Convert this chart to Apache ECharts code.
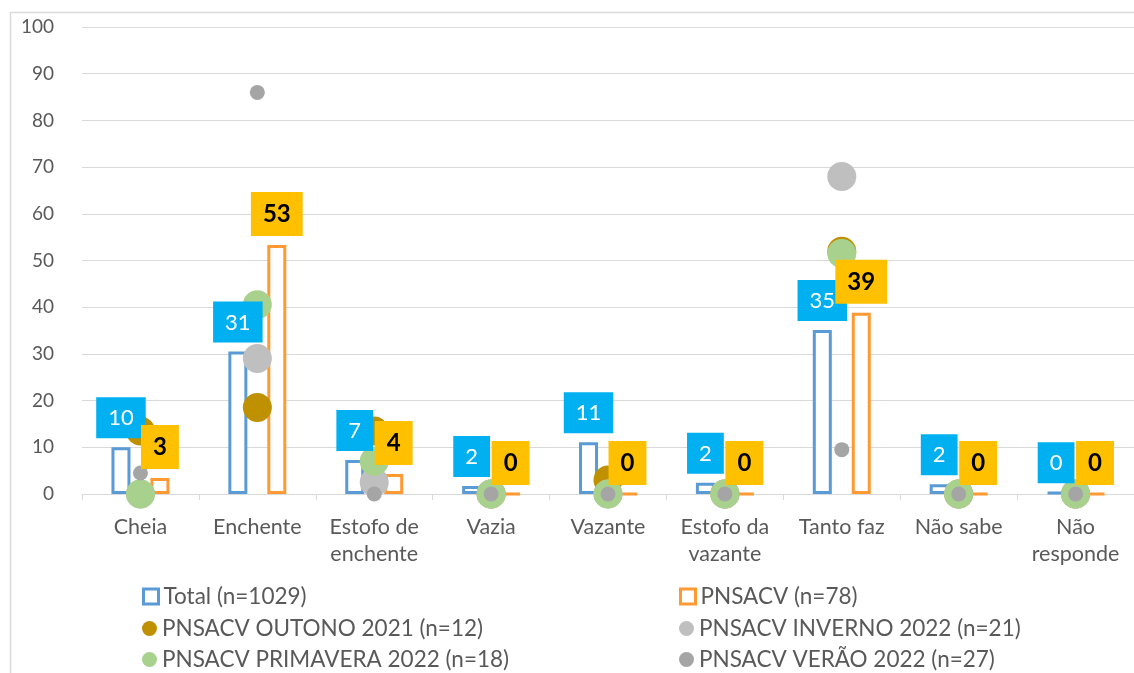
<!DOCTYPE html>
<html><head><meta charset="utf-8">
<script src="https://cdn.jsdelivr.net/npm/echarts@6/dist/echarts.min.js"></script>
<style>html,body{margin:0;padding:0;background:#fff}#c{width:1134px;height:673px}</style>
</head><body><div id="c"></div>
<script>
const categories = ['Cheia','Enchente','Estofo de\nenchente','Vazia','Vazante','Estofo da\nvazante','Tanto faz','Não sabe','Não\nresponde'];
const yTicks = [0,10,20,30,40,50,60,70,80,90,100];
const total = [10, 30.5, 7.3, 1.7, 11.1, 2.4, 35.1, 2.1, 0.4];
const pnsacv = [3.4, 53.3, 4.3, 0, 0, 0, 38.8, 0, 0];
const outono = [13.5, 18.5, 13.5, 0, 3, 0, 52, 0, 0];
const inverno = [0, 29, 2.5, 0, 0, 0, 68, 0, 0];
const primavera = [0, 40.5, 7, 0, 0, 0, 51.5, 0, 0];
const verao = [4.5, 86, 0, 0, 0, 0, 9.5, 0, 0];
const names = ['Total (n=1029)','PNSACV (n=78)','PNSACV OUTONO 2021 (n=12)','PNSACV INVERNO 2022 (n=21)','PNSACV PRIMAVERA 2022 (n=18)','PNSACV VERÃO 2022 (n=27)'];

const FONT = 'Lato';
const C = {total:'#5B9BD5', pnsacv:'#FF9933', outono:'#BF9000', inverno:'#BFBFBF', primavera:'#A9D18E', verao:'#A5A5A5'};
const BW = 19, GAP = '105%';

const chart = echarts.init(document.getElementById('c'), null, {renderer:'canvas'});
function barSeries(name, data, color, axis, withLabel, labelStyle){
  return {
    name, type:'bar', data, xAxisIndex:axis, barWidth:BW, barGap:GAP,
    z: withLabel ? 10 : 1, silent: withLabel,
    itemStyle: withLabel ? {color:'transparent', borderWidth:0} : {color:'#fff', borderColor:color, borderWidth:3},
    label: withLabel ? Object.assign({show:true, position:'top', distance:9, formatter:p=>String(Math.round(p.value)), fontFamily:FONT}, labelStyle) : {show:false}
  };
}
function scatterSeries(name, data, color, size){
  return {name, type:'scatter', data, symbol:'circle', symbolSize:size, itemStyle:{color, opacity:1}, z:3, clip:false};
}
const leg = (item, left, top) => ({
  orient:'horizontal', left, top, itemWidth:15, itemHeight:15,
  textStyle:{fontFamily:FONT, fontSize:22.5, color:'#595959', lineHeight:22},
  data:[item], selectedMode:false
});
const rowTop = [580, 612, 643];
chart.setOption({
  animation:false,
  textStyle:{fontFamily:FONT},
  graphic:[{type:'rect', left:8, top:10, shape:{width:1300, height:800}, style:{fill:'none', stroke:'#D9D9D9', lineWidth:1.5}, z:-1}],
  grid:{left:82, right:-10, top:27, bottom:179},
  legend:[
    leg({name:names[0], icon:'rect', itemStyle:{color:'#fff', borderColor:C.total, borderWidth:3}}, 137, rowTop[0]),
    leg({name:names[1], icon:'rect', itemStyle:{color:'#fff', borderColor:C.pnsacv, borderWidth:3}}, 674, rowTop[0]),
    leg({name:names[2], icon:'circle'}, 137, rowTop[1]),
    leg({name:names[3], icon:'circle'}, 674, rowTop[1]),
    leg({name:names[4], icon:'circle'}, 137, rowTop[2]),
    leg({name:names[5], icon:'circle'}, 674, rowTop[2])
  ],
  xAxis:[{
    type:'category', data:categories,
    axisLine:{lineStyle:{color:'#D9D9D9', width:1}},
    axisTick:{show:true, length:6, lineStyle:{color:'#D9D9D9'}},
    axisLabel:{fontFamily:FONT, fontSize:21.5, color:'#595959', margin:20, lineHeight:27, interval:0}
  },{
    type:'category', data:categories, show:false
  }],
  yAxis:{
    type:'value', min:0, max:100, interval:10,
    axisLine:{show:false}, axisTick:{show:false},
    splitLine:{lineStyle:{color:'#D9D9D9', width:1}},
    axisLabel:{fontFamily:FONT, fontSize:19, color:'#595959', margin:28, formatter:v=>yTicks.includes(v)?String(v):''}
  },
  series:[
    barSeries(names[0], total, C.total, 0, false),
    barSeries(names[1], pnsacv, C.pnsacv, 0, false),
    scatterSeries(names[2], outono, C.outono, 29),
    scatterSeries(names[3], inverno, C.inverno, 29),
    scatterSeries(names[4], primavera, C.primavera, 29),
    scatterSeries(names[5], verao, C.verao, 15),
    barSeries('lblTotal', total, C.total, 1, true, {backgroundColor:'#00B0F0', color:'#fff', fontSize:22, padding:[10,12,9,12], lineHeight:22}),
    barSeries('lblPnsacv', pnsacv, C.pnsacv, 1, true, {backgroundColor:'#FFC000', color:'#000', fontSize:24, fontWeight:'bold', padding:[10,12,10,12], lineHeight:24})
  ]
});
</script></body></html>
